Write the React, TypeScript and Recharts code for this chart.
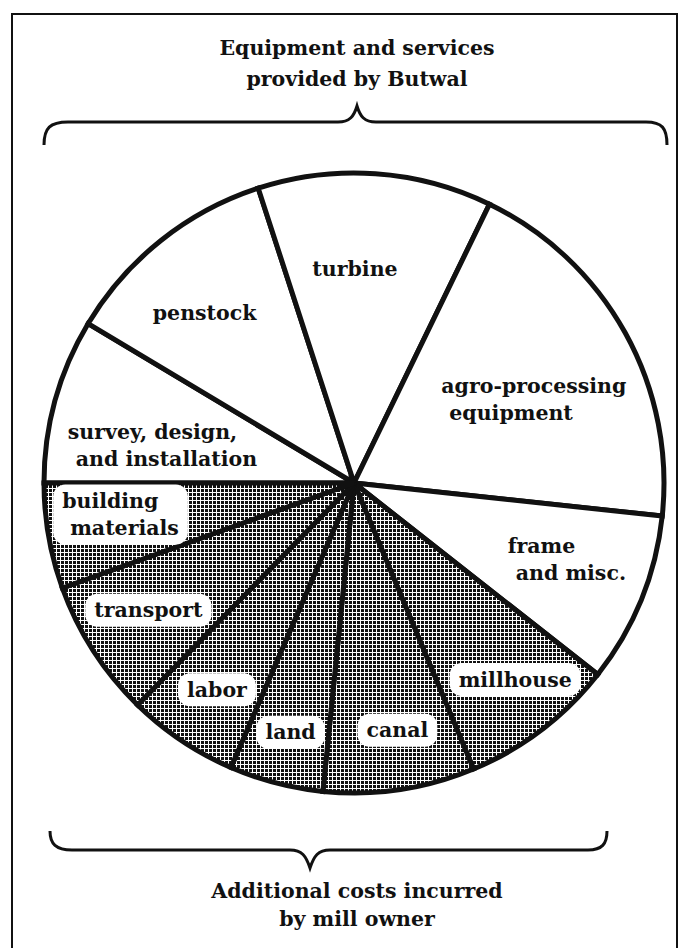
import { PieChart, Pie, Cell } from 'recharts'

// cost shares (% of total), read clockwise from the 9 o'clock spoke
const categories = [
  'survey, design, and installation',
  'penstock',
  'turbine',
  'agro-processing equipment',
  'frame and misc.',
  'millhouse',
  'canal',
  'land',
  'labor',
  'transport',
  'building materials',
]
const shares = [8.6, 11.4, 12.2, 19.5, 8.9, 8.1, 7.9, 4.9, 5.8, 7.2, 5.5]
const paidBy = ['Butwal', 'Butwal', 'Butwal', 'Butwal', 'Butwal', 'owner', 'owner', 'owner', 'owner', 'owner', 'owner']
const labelLines = [
  ['survey, design,', 'and installation'],
  ['penstock'],
  ['turbine'],
  ['agro-processing', 'equipment'],
  ['frame', 'and misc.'],
  ['millhouse'],
  ['canal'],
  ['land'],
  ['labor'],
  ['transport'],
  ['building', 'materials'],
]
const topTitle = ['Equipment and services', 'provided by Butwal']
const bottomTitle = ['Additional costs incurred', 'by mill owner']

// label placement: fraction of radius, and turn (deg) from the slice's mid angle
const labelRadius = [0.63, 0.73, 0.69, 0.64, 0.73, 0.82, 0.81, 0.83, 0.8, 0.78, 0.76]
const labelTurn = [4.3, 2.8, 3.7, -4, 2.3, 2.1, 1.5, 0.3, 0.3, -1, -2.2]

const data = categories.map((name, i) => ({ name, value: shares[i], group: paidBy[i] }))

const FONT = '"DejaVu Serif", serif'
const FS = 20.5
const LINE_H = 27
const INDENT = 8
const RAD = Math.PI / 180

let ctx: CanvasRenderingContext2D | null = null
function textWidth(s: string) {
  if (!ctx) ctx = document.createElement('canvas').getContext('2d')
  if (!ctx) return s.length * FS * 0.6
  ctx.font = `bold ${FS}px ${FONT}`
  return ctx.measureText(s).width
}

function renderLabel(p: any) {
  const i = p.index
  const ang = p.midAngle + labelTurn[i]
  const r = p.outerRadius * labelRadius[i]
  const x = p.cx + r * Math.cos(-ang * RAD)
  const y = p.cy + r * Math.sin(-ang * RAD)
  const lines = labelLines[i]
  const w = Math.max(...lines.map((l, k) => textWidth(l) + k * INDENT))
  const h = lines.length * LINE_H
  const left = x - w / 2
  const top = y - h / 2
  return (
    <g key={`lbl-${i}`}>
      {paidBy[i] === 'owner' && (
        <rect x={left - 9} y={top - 3} width={w + 18} height={h + 6} rx={12} fill="#fff" />
      )}
      {lines.map((l, k) => (
        <text key={k} x={left + k * INDENT} y={top + LINE_H * (k + 0.5)} dominantBaseline="central"
          fontFamily={FONT} fontSize={FS} fontWeight="bold" fill="#111">{l}</text>
      ))}
    </g>
  )
}

export default function App() {
  return (
    <div style={{ position: 'absolute', left: 0, top: 0, width: 679, height: 948, background: '#fff', overflow: 'hidden' }}>
      <svg width={679} height={948} style={{ position: 'absolute', left: 0, top: 0 }}>
        <defs>
          <pattern id="dots" width={4} height={4} patternUnits="userSpaceOnUse">
            <rect width={4} height={4} fill="#fff" />
            <rect x={1} y={1} width={3} height={3} fill="#111" />
          </pattern>
        </defs>
        <rect x={12} y={14} width={665} height={980} fill="none" stroke="#111" strokeWidth={2} />
        {topTitle.map((t, k) => (
          <text key={k} x={357} y={48 + k * 31} textAnchor="middle" dominantBaseline="central"
            fontFamily={FONT} fontSize={FS} fontWeight="bold" fill="#111">{t}</text>
        ))}
        <path d="M44,145 C44,128 50,122 68,122 L338,122 C350,122 354,116 357,106 C360,116 364,122 376,122 L646,122 C662,122 667,128 667,145"
          fill="none" stroke="#111" strokeWidth={3} />
        <path d="M50,831 C50,844 56,850 72,850 L290,850 C302,850 306,856 310,868 C314,856 318,850 330,850 L588,850 C602,850 607,844 607,831"
          fill="none" stroke="#111" strokeWidth={3} />
        {bottomTitle.map((t, k) => (
          <text key={k} x={357} y={891 + k * 28} textAnchor="middle" dominantBaseline="central"
            fontFamily={FONT} fontSize={FS} fontWeight="bold" fill="#111">{t}</text>
        ))}
      </svg>
      <div style={{ position: 'absolute', left: 0, top: 0 }}>
        <PieChart width={679} height={948} margin={{ top: 0, right: 0, bottom: 0, left: 0 }}>
          <Pie data={data} dataKey="value" nameKey="name" cx={354} cy={483} outerRadius={310}
            startAngle={180} endAngle={-180} stroke="#111" strokeWidth={5}
            label={renderLabel} labelLine={false} isAnimationActive={false}>
            {data.map((d, i) => (
              <Cell key={i} fill={d.group === 'owner' ? 'url(#dots)' : '#fff'} />
            ))}
          </Pie>
        </PieChart>
      </div>
    </div>
  )
}
